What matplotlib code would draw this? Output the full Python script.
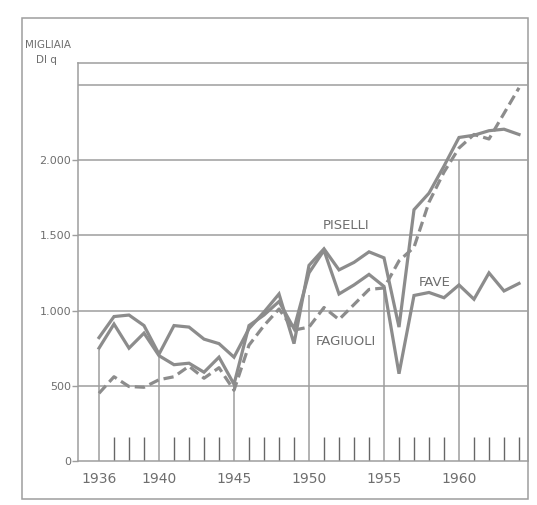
import numpy as np
import matplotlib.pyplot as plt
from matplotlib.patches import Rectangle

years = np.arange(1936, 1965)

# migliaia di quintali
piselli = [820, 960, 970, 900, 710, 900, 890, 810, 780, 690,
           880, 990, 1110, 780, 1300, 1410, 1270, 1320, 1390, 1350,
           890, 1670, 1780, 1960, 2150, 2165, 2195, 2205, 2170]
fave = [750, 910, 750, 850, 700, 640, 650, 590, 690, 510,
        900, 970, 1060, 880, 1250, 1400, 1110, 1170, 1240, 1160,
        580, 1100, 1120, 1085, 1170, 1075, 1250, 1130, 1180]
fagiuoli = [450, 560, 495, 490, 540, 560, 630, 550, 620, 470,
            770, 900, 1010, 870, 890, 1020, 940, 1040, 1140, 1150,
            1330, 1420, 1720, 1920, 2080, 2170, 2140, 2310, 2480]

major_years = [1936, 1940, 1945, 1950, 1955, 1960]
guide_tops = [740, 700, 510, 1100, 1160, 2000]
y_ticks = [0, 500, 1000, 1500, 2000]
y_labels = ['0', '500', '1.000', '1.500', '2.000']
grid_levels = [500, 1000, 1500, 2000, 2500]

line_col = '#8c8c8c'
grid_col = '#9e9e9e'
text_col = '#6e6e6e'

W, H = 537, 505
fig = plt.figure(figsize=(W / 100, H / 100), dpi=100)
ax = fig.add_axes([78 / W, 1 - 461 / H, 450 / W, 398 / H])

ax.set_xlim(1936 - 21 / 15, 1964 + 9 / 15)
ax.set_ylim(0, 2645)

# griglia orizzontale
for g in grid_levels:
    ax.axhline(g, color=grid_col, lw=1.1, zorder=1)

# linee verticali per gli anni principali
ax.vlines(major_years, 0, guide_tops, color=grid_col, lw=1.1, zorder=1)

# tacche per gli anni intermedi
minor_years = [y for y in years if y not in major_years]
ax.vlines(minor_years, 0, 160, color='#666666', lw=1.0, zorder=1)

ax.plot(years, piselli, color=line_col, lw=2.3, solid_joinstyle='miter', zorder=3)
ax.plot(years, fave, color=line_col, lw=2.3, solid_joinstyle='miter', zorder=3)
ax.plot(years, fagiuoli, color=line_col, lw=2.3, dashes=(3.2, 1.6), zorder=3)

lab_kw = dict(color=text_col, fontsize=9.5, ha='center', va='center', zorder=4)
ax.text(1952.5, 1565, 'PISELLI', **lab_kw)
ax.text(1958.35, 1183, 'FAVE', bbox=dict(fc='white', ec='none', pad=0.5), **lab_kw)
ax.text(1952.45, 797, 'FAGIUOLI', **lab_kw)

ax.set_xticks(major_years)
ax.set_xticklabels([str(y) for y in major_years], fontsize=10, color=text_col)
ax.set_yticks(y_ticks)
ax.set_yticklabels(y_labels, fontsize=8, color=text_col)
ax.tick_params(axis='x', length=0, pad=8)
ax.tick_params(axis='y', length=4, width=1, color=grid_col, pad=1)

for s in ax.spines.values():
    s.set_color(grid_col)
    s.set_linewidth(1.1)

fig.text(25 / W, 1 - 45 / H, 'MIGLIAIA', fontsize=7.5, color=text_col,
         ha='left', va='center')
fig.text(36 / W, 1 - 60 / H, 'DI q', fontsize=7.5, color=text_col,
         ha='left', va='center')

# cornice esterna
fig.patches.append(Rectangle((22 / W, 1 - 499 / H), 506 / W, 481 / H,
                             transform=fig.transFigure, fill=False,
                             ec=grid_col, lw=1.1))

fig.savefig('out.png', dpi=100)
